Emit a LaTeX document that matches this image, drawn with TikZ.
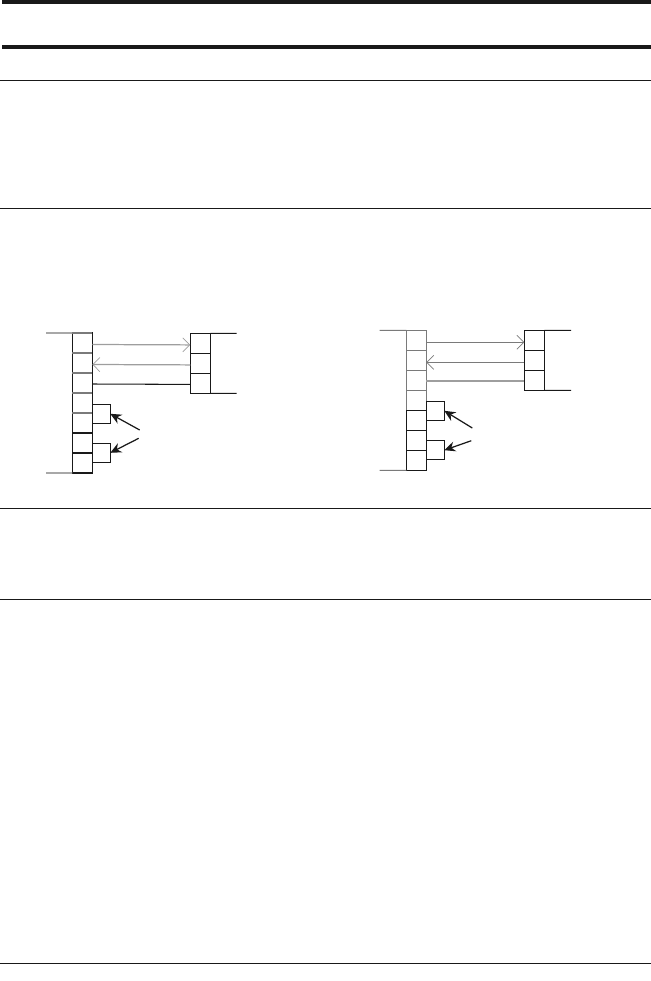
\documentclass[tikz,border=0pt]{standalone}
\usepackage{xcolor}
\usepackage{tikz}
\usetikzlibrary{arrows.meta,positioning}
\definecolor{tinta}{gray}{0.1}
\definecolor{gris}{gray}{0.48}
\definecolor{grisclaro}{gray}{0.62}
\tikzset{
  celda/.style={rectangle,draw=tinta,line width=0.6pt,minimum width=0.4cm,minimum height=0.4cm,
    inner sep=0pt,outer sep=0pt},
  celdagris/.style={celda,draw=gris},
  talon/.style={rectangle,draw=tinta,line width=0.6pt,minimum width=0.36cm,minimum height=0.38cm,
    inner sep=0pt,outer sep=0pt},
  senal/.style={-{Straight Barb[length=1.4mm,width=2.8mm,line width=0.4pt]},line width=0.7pt},
  puntero/.style={-{Stealth[length=2.2mm,width=2mm]},line width=0.7pt,draw=tinta},
  raya/.style={line width=0.6pt,draw=tinta},
  rayagris/.style={line width=0.6pt,draw=gris}
}
\begin{document}
\begin{tikzpicture}[x=0.02cm,y=-0.02cm]
\useasboundingbox (0,0) rectangle (651,981);

% Reglas de la pagina
\fill[tinta] (2,0) rectangle (651,3.7);
\fill[tinta] (2,45) rectangle (651,49);
\foreach \y in {80.5,208.5,508.5,599.5,963.5}
  \draw[raya] (0,\y) -- (651,\y);

% 1. Diagrama izquierdo
\foreach \i in {1,...,7}
  \node[celda] (lA\i) at (82.3,{323+20*\i}) {};
\foreach \i in {1,2,3}
  \node[celda] (lB\i) at (200.3,{323.4+20*\i}) {};
\foreach \i in {1,2,3,4}
  \draw[rayagris] (lA\i.south west) -- (lA\i.south east);
\draw[rayagris] (lA1.north west) -- (lA1.north east);

\node[talon,anchor=north west] (lS1) at (lA4.south east |- 0,404.3) {};
\node[talon,anchor=north west] (lS2) at (lA6.south east |- 0,443.3) {};

\coordinate (lTop) at (46,333);
\coordinate (lBot) at (46,473);
\coordinate (lTopR) at (236.7,333.4);
\coordinate (lBotR) at (236.7,393.4);
\coordinate (lFrom1) at (139.7,430);
\coordinate (lFrom2) at (138.7,438.3);

\draw[rayagris] (lTop) -- (lA1.north west);
\draw[rayagris] (lBot) -- (lA7.south west);
\draw[raya] (lB1.north east) -- (lTopR);
\draw[raya] (lB3.south east) -- (lBotR);

\draw[senal,draw=grisclaro] ([yshift=-0.03cm]lA1.east) -- ([yshift=-0.03cm]lB1.west);
\draw[senal,draw=grisclaro] ([yshift=-0.03cm]lB2.west) -- ([yshift=-0.03cm]lA2.east);
\draw[raya] ([yshift=-0.02cm]lA3.east) -- ([yshift=-0.02cm]lB3.west);
\draw[puntero] (lFrom1) -- (lS1.east);
\draw[puntero] (lFrom2) -- (lS2.east);

% 2. Diagrama derecho
\foreach \i in {5,6,7}
  \node[celda] (rA\i) at (416.3,{320.3+20*\i}) {};
\foreach \i in {1,2,3,4}
  \node[celdagris] (rA\i) at (416.3,{320.3+20*\i}) {};
\foreach \i in {1,2,3}
  \node[celda] (rB\i) at (534.3,{320.3+20*\i}) {};
\draw[raya] (rA5.north west) -- (rA5.north east);

\node[talon,anchor=north west] (rS1) at (rA4.south east |- 0,401.3) {};
\node[talon,anchor=north west] (rS2) at (rA6.south east |- 0,440.7) {};

\coordinate (rTop) at (379.7,330.3);
\coordinate (rBot) at (379.7,470.3);
\coordinate (rTopR) at (571,330.3);
\coordinate (rBotR) at (571,390.3);
\coordinate (rFrom1) at (472.3,428);
\coordinate (rFrom2) at (471.3,440.7);

\draw[rayagris] (rTop) -- (rA1.north west);
\draw[rayagris] (rBot) -- (rA7.south west);
\draw[raya] (rB1.north east) -- (rTopR);
\draw[raya] (rB3.south east) -- (rBotR);

\draw[senal,draw=gris] ([yshift=-0.04cm]rA1.east) -- ([yshift=-0.04cm]rB1.west);
\draw[senal,draw=gris] ([yshift=-0.04cm]rB2.west) -- ([yshift=-0.04cm]rA2.east);
\draw[draw=grisclaro,line width=1.1pt] ([yshift=-0.02cm]rA3.east) -- ([yshift=-0.02cm]rB3.west);
\draw[puntero] (rFrom1) -- (rS1.east);
\draw[puntero] (rFrom2) -- (rS2.east);

\end{tikzpicture}
\end{document}
